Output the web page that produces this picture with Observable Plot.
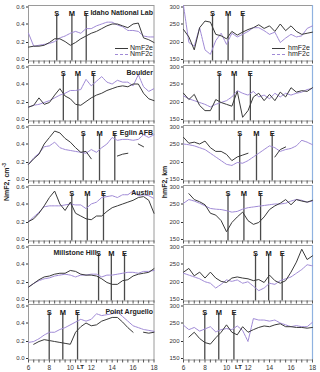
<!DOCTYPE html>
<html><head><meta charset="utf-8">
<script src="https://cdn.jsdelivr.net/npm/d3@7"></script>
<script src="https://cdn.jsdelivr.net/npm/@observablehq/plot@0.6"></script>
<style>
body{margin:0;background:#fff;font-family:"Liberation Sans",Arial,sans-serif;}
#chart{position:relative;width:320px;height:372px;overflow:hidden;background:#fff;}
#chart svg{position:absolute;background:transparent;overflow:visible;}
.lbl{position:absolute;font-size:7px;font-weight:bold;color:#222;white-space:nowrap;line-height:1;}
.leg{position:absolute;height:0;width:13px;}
</style></head><body><div id="chart"></div><script>
// Local time grid (hours)
const lt = [6,6.5,7,7.5,8,8.5,9,9.5,10,10.5,11,11.5,12,12.5,13,13.5,14,14.5,15,15.5,16,16.5,17,17.5,18];
const stations = ["Idaho National Lab","Boulder","Eglin AFB","Austin","Millstone Hill","Point Arguello"];
// eclipse start / maximum / end (LT)
const sTimes = [8.7, 9.33, 11.23, 10.14, 12.7, 7.98];
const mTimes = [10.15, 10.72, 12.79, 11.62, 13.92, 9.28];
const eTimes = [11.52, 12.22, 14.25, 13.17, 15.18, 10.69];

// NmF2: e = observed, c = reference
const idahoNmE = [0.15,0.16,0.16,0.17,0.2,0.24,0.24,0.21,0.17,0.2,0.24,0.27,0.3,0.32,0.35,0.38,0.4,0.4,0.38,0.36,0.4,0.41,0.25,0.23,0.2];
const idahoNmC = [0.3,0.16,0.17,0.18,0.19,0.21,0.25,0.27,0.3,0.32,0.3,0.35,0.35,0.38,0.4,0.42,0.42,0.39,0.37,0.33,0.33,0.32,0.27,0.26,0.26];
const boulderNmE = [0.15,0.17,0.25,0.18,0.2,0.28,0.35,0.27,0.24,0.18,0.17,0.21,0.25,0.28,0.3,0.33,0.35,0.37,0.38,0.37,0.4,0.4,0.3,0.24,0.22];
const boulderNmC = [0.15,0.17,0.18,0.2,0.22,0.25,0.28,0.3,0.33,0.33,0.34,0.45,0.38,0.43,0.48,0.42,0.4,0.44,0.42,0.42,0.38,0.5,0.37,0.32,0.35];
const eglinNmE = [0.18,0.24,0.29,0.4,0.47,0.54,0.52,0.46,0.42,0.36,0.31,0.32,0.24,null,null,null,null,0.27,0.29,0.3,null,0.4,0.37,null,null];
const eglinNmC = [0.18,0.25,0.3,0.37,0.38,0.42,0.36,0.34,0.33,0.32,0.31,0.3,0.34,0.31,0.36,0.4,0.47,0.44,0.45,0.45,0.44,0.45,0.5,0.47,0.5];
const austinNmE = [0.21,0.24,0.3,0.38,0.47,0.54,0.4,0.33,0.42,0.3,0.27,0.24,0.23,0.27,0.27,0.32,0.36,0.38,0.4,0.42,0.44,0.47,0.48,0.44,0.3];
const austinNmC = [0.21,0.26,0.31,0.37,0.38,0.38,0.38,0.39,0.4,0.39,0.39,0.35,0.4,0.42,0.47,0.48,0.49,0.47,0.5,0.5,0.54,0.49,0.5,0.49,0.46];
const millNmE = [0.15,0.19,0.23,0.26,0.27,0.29,0.3,0.3,0.33,0.32,0.29,0.28,0.28,0.27,0.24,0.2,0.18,0.18,0.22,0.23,0.27,0.29,0.3,0.31,0.35];
const millNmC = [0.15,0.19,0.22,0.24,0.25,0.27,0.28,0.29,0.28,0.26,0.28,0.28,0.29,0.29,0.26,0.28,0.28,0.29,0.3,0.31,0.31,0.3,0.32,0.32,0.33];
const paNmE = [null,0.17,0.2,0.22,0.21,0.2,0.19,0.18,0.17,0.3,0.36,0.4,0.37,0.38,0.42,0.44,0.46,0.46,0.41,0.35,0.3,null,0.3,0.29,0.3];
const paNmC = [0.19,0.2,0.23,0.27,0.3,0.3,0.33,0.35,0.38,0.41,0.44,0.42,0.44,0.5,0.48,0.49,0.5,0.52,0.47,0.42,0.37,0.35,0.33,0.32,0.31];

// hmF2 (km)
const idahoHmE = [235,215,180,240,258,255,222,218,210,230,220,228,235,240,248,238,245,230,250,232,245,230,222,225,228];
const idahoHmC = [300,200,190,240,180,168,205,225,195,225,215,222,230,240,240,232,222,228,200,212,222,215,218,238,245];
const boulderHmE = [225,208,222,192,178,178,208,200,195,190,230,160,178,215,225,205,222,205,228,215,240,228,232,230,240];
const boulderHmC = [218,210,205,200,195,188,195,200,205,215,232,225,220,230,215,220,210,225,215,225,220,225,228,235,238];
const eglinHmE = [268,252,255,250,258,240,230,230,222,205,215,220,225,null,null,null,null,215,235,242,null,null,null,null,null];
const eglinHmC = [250,248,245,240,235,225,215,205,195,192,200,198,205,215,225,235,245,240,230,235,238,245,260,255,248];
const austinHmE = [null,278,262,256,248,225,220,205,175,200,215,228,205,195,200,215,235,245,252,262,248,262,258,255,260];
const austinHmC = [252,262,258,252,245,238,236,235,232,228,230,236,240,242,244,246,248,250,250,252,258,262,260,255,258];
const millHmE = [228,238,218,228,212,228,212,203,200,212,215,212,210,205,208,200,220,205,198,205,228,255,290,262,272];
const millHmC = [225,220,215,210,202,198,185,195,207,203,207,198,202,190,178,185,198,195,205,210,215,225,235,248,245];
const paHmE = [null,212,225,208,197,193,210,225,245,225,218,240,225,232,238,242,240,245,248,240,240,238,238,236,238];
const paHmC = [244,232,238,228,234,240,226,232,235,232,242,230,200,262,258,258,255,258,250,245,240,243,240,240,252];

const nmE = [idahoNmE, boulderNmE, eglinNmE, austinNmE, millNmE, paNmE];
const nmC = [idahoNmC, boulderNmC, eglinNmC, austinNmC, millNmC, paNmC];
const hmE = [idahoHmE, boulderHmE, eglinHmE, austinHmE, millHmE, paHmE];
const hmC = [idahoHmC, boulderHmC, eglinHmC, austinHmC, millHmC, paHmC];

const nmTicks = [0, 0.2, 0.4, 0.6];
const hmTicks = [150, 200, 250, 300];
const halfHours = [6,6.5,7,7.5,8,8.5,9,9.5,10,10.5,11,11.5,12,12.5,13,13.5,14,14.5,15,15.5,16,16.5,17,17.5,18];
const hourLabels = [6,8,10,12,14,16,18];
const legLeft = ["NmF2e", "NmF2c"];
const legRight = ["hmF2e", "hmF2c"];

const purple = "#a08ad6";
const dark = "#3a3a3a";
const rowTops = [5, 65, 125, 185, 244.5, 303.5];
const plotH = 55.5;
const chart = document.getElementById("chart");

function panel(i, col) {
  const left = col === 0;
  const bottom = i === 5;
  const eArr = left ? nmE[i] : hmE[i];
  const cArr = left ? nmC[i] : hmC[i];
  const ticks = left ? nmTicks : hmTicks;
  const fmt = left ? d3.format(".1f") : d3.format("d");
  const rows = lt.map((t, j) => ({lt: t, e: eArr[j], c: cArr[j]}));
  const events = [{k: "S", t: sTimes[i]}, {k: "M", t: mTimes[i]}, {k: "E", t: eTimes[i]}];
  const mb = bottom ? 14 : 6;
  const ml = left ? 28 : 23;
  const mr = left ? 6.5 : 8;
  let nameMark = null;
  if (left) {
    nameMark = i === 4
      ? Plot.text([stations[i]], {frameAnchor: "top-left", dx: 25, dy: 5, textAnchor: "start", fontWeight: "bold", fontSize: 7, fill: "#222"})
      : Plot.text([stations[i]], {frameAnchor: "top-right", dx: -1, dy: 5, textAnchor: "end", fontWeight: "bold", fontSize: 7, fill: "#222"});
  }
  const yAxisOpts = {tickSize: 2, tickPadding: 2, tickFormat: fmt, label: null, fill: "#333", fontSize: 6};
  const svg = Plot.plot({
    width: 160, height: 5 + plotH + mb,
    marginTop: 5, marginBottom: mb, marginLeft: ml, marginRight: mr,
    style: {fontSize: "6.5px", fontFamily: "Liberation Sans, Arial, sans-serif", color: "#333", background: "transparent", overflow: "visible"},
    x: {domain: [6, 18]},
    y: {domain: left ? [0, 0.6] : [150, 300]},
    marks: [
      Plot.frame({stroke: "#9a9a9a"}),
      left ? null : Plot.ruleX([18], {stroke: "#8fb2e0", strokeWidth: 1.2}),
      Plot.axisY([ticks[0]], {...yAxisOpts, dy: -1.5}),
      Plot.axisY([ticks[1], ticks[2]], yAxisOpts),
      Plot.axisY([ticks[3]], {...yAxisOpts, dy: 1.5}),
      Plot.axisX({ticks: halfHours, tickSize: 3, fill: "none", stroke: "#555", label: null}),
      bottom ? Plot.axisX({ticks: hourLabels, tickSize: 0, tickPadding: 5, label: null, fill: "#333"}) : null,
      Plot.ruleX(events, {x: "t", stroke: "#4a4a4a", strokeWidth: 1.3, insetTop: 9}),
      Plot.text(events, {x: "t", text: "k", frameAnchor: "top", dy: 5, fontWeight: "bold", fontSize: 7.5, fill: "#222"}),
      Plot.line(rows, {x: "lt", y: "c", stroke: purple, strokeWidth: 1, strokeDasharray: "2.5,0.8"}),
      Plot.line(rows, {x: "lt", y: "e", stroke: dark, strokeWidth: 1}),
      nameMark
    ]
  });
  svg.style.left = (left ? 0 : 160) + "px";
  svg.style.top = (rowTops[i] - 5) + "px";
  chart.appendChild(svg);
}
for (let i = 0; i < 6; i++) { panel(i, 0); panel(i, 1); }

function addLabel(text, x, y, extra) {
  const d = document.createElement("div");
  d.className = "lbl";
  d.innerHTML = text;
  d.style.left = x + "px";
  d.style.top = y + "px";
  if (extra) Object.assign(d.style, extra);
  chart.appendChild(d);
  return d;
}
function addLeg(x, y, color, dashed) {
  const d = document.createElement("div");
  d.className = "leg";
  d.style.left = x + "px";
  d.style.top = y + "px";
  d.style.borderTop = (dashed ? "1px dashed " : "1px solid ") + color;
  chart.appendChild(d);
}
// legends
addLeg(115, 47.5, dark, false); addLeg(115, 53.5, purple, true);
addLabel(legLeft[0], 130, 44, {fontWeight: "normal"}); addLabel(legLeft[1], 130, 50, {fontWeight: "normal"});
addLeg(272, 47.5, dark, false); addLeg(272, 53.5, purple, true);
addLabel(legRight[0], 288, 44, {fontWeight: "normal"}); addLabel(legRight[1], 288, 50, {fontWeight: "normal"});
// axis titles
addLabel("NmF2, cm<sup style='font-size:5px'>-3</sup>", 6, 182, {transform: "translate(-50%,-50%) rotate(-90deg)"});
addLabel("hmF2, km", 164, 182, {transform: "translate(-50%,-50%) rotate(-90deg)"});
addLabel("LT", 77, 364, {fontSize: "6px"});
addLabel("LT", 235, 364, {fontSize: "6px"});
</script></body></html>
